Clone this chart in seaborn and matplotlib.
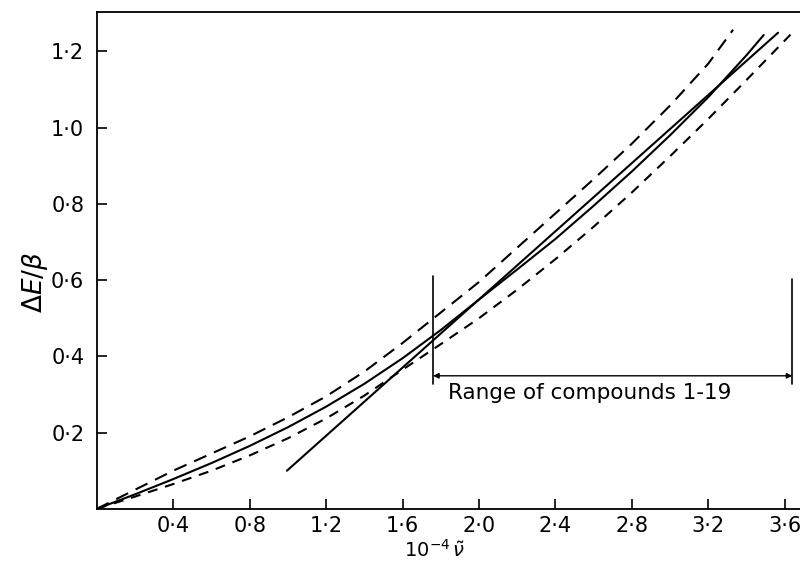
import numpy as np
import pandas as pd
import matplotlib
matplotlib.use("Agg")
import matplotlib.pyplot as plt
import seaborn as sns

# values
solid_x = [0.0, 0.2, 0.4, 0.6, 0.8, 1.0, 1.2, 1.4, 1.6, 1.8, 2.0, 2.2, 2.4, 2.6, 2.8, 3.0, 3.2, 3.4, 3.49]
solid_y = [0.0, 0.038, 0.078, 0.12, 0.165, 0.214, 0.268, 0.328, 0.395, 0.469, 0.549, 0.628, 0.708,
           0.795, 0.885, 0.98, 1.08, 1.19, 1.243]

upper_x = [0.0, 0.2, 0.4, 0.6, 0.8, 1.0, 1.2, 1.4, 1.6, 1.8, 2.0, 2.2, 2.4, 2.6, 2.8, 3.0, 3.2, 3.33]
upper_y = [0.0, 0.05, 0.1, 0.145, 0.19, 0.24, 0.295, 0.36, 0.435, 0.515, 0.595, 0.685, 0.775,
           0.865, 0.958, 1.058, 1.168, 1.257]

lower_x = [0.0, 0.2, 0.4, 0.6, 0.8, 1.0, 1.2, 1.4, 1.6, 1.8, 2.0, 2.2, 2.4, 2.6, 2.8, 3.0, 3.2, 3.4, 3.63]
lower_y = [0.0, 0.032, 0.065, 0.1, 0.14, 0.185, 0.237, 0.297, 0.365, 0.432, 0.5, 0.575, 0.655,
           0.74, 0.83, 0.925, 1.023, 1.125, 1.244]

tangent_x = [0.995, 3.565]
tangent_y = [0.10, 1.249]

range_lo, range_hi = 1.76, 3.64

xticks = [0.4, 0.8, 1.2, 1.6, 2.0, 2.4, 2.8, 3.2, 3.6]
yticks = [0.2, 0.4, 0.6, 0.8, 1.0, 1.2]

sns.set_style("ticks")
plt.rcParams['font.family'] = ['DejaVu Sans']
for key in ['text.color', 'axes.labelcolor', 'xtick.color', 'ytick.color', 'axes.edgecolor']:
    plt.rcParams[key] = 'black'

fig = plt.figure(figsize=(8, 5.61), dpi=100)
ax = fig.add_axes([0.121, 0.093, 0.879, 0.886])

sns.lineplot(x=solid_x, y=solid_y, ax=ax, color='black', lw=1.5, sort=False)
sns.lineplot(x=tangent_x, y=tangent_y, ax=ax, color='black', lw=1.5, sort=False)
sns.lineplot(x=upper_x, y=upper_y, ax=ax, color='black', lw=1.5, sort=False,
             linestyle=(0, (6.4, 4)))
sns.lineplot(x=lower_x, y=lower_y, ax=ax, color='black', lw=1.5, sort=False,
             linestyle=(0, (4.8, 3.8)))

# range of compounds bracket
ax.plot([range_lo, range_lo], [0.328, 0.612], color='black', lw=1.2)
ax.plot([range_hi, range_hi], [0.328, 0.602], color='black', lw=1.2)
ax.annotate('', xy=(range_lo, 0.349), xytext=(range_hi, 0.349),
            arrowprops=dict(arrowstyle='<|-|>', color='black', lw=1.0,
                            mutation_scale=8, shrinkA=0, shrinkB=0))
ax.text(1.84, 0.305, 'Range of compounds 1-19', fontsize=15.5, va='center', ha='left')

ax.set_xlim(0, 3.68)
ax.set_ylim(0, 1.304)
ax.set_xticks(xticks)
ax.set_yticks(yticks)
ax.set_xticklabels([f"{v:.1f}".replace('.', '·') for v in xticks], fontsize=15)
ax.set_yticklabels([f"{v:.1f}".replace('.', '·') for v in yticks], fontsize=15)
ax.tick_params(direction='in', length=7, width=1.2)
ax.tick_params(axis='x', pad=5)
ax.tick_params(axis='y', pad=9)

for side in ['left', 'bottom', 'top']:
    ax.spines[side].set_linewidth(1.3)
ax.spines['right'].set_visible(False)

ax.set_xlabel(r'$10^{-4}\,\tilde{\nu}$', fontsize=14, va='top')
ax.xaxis.set_label_coords(0.48, -0.06)
ax.set_ylabel(r'$\Delta E/\beta$', fontsize=19, va='center')
ax.yaxis.set_label_coords(-0.088, 0.455)

fig.savefig('out.png', dpi=100)
